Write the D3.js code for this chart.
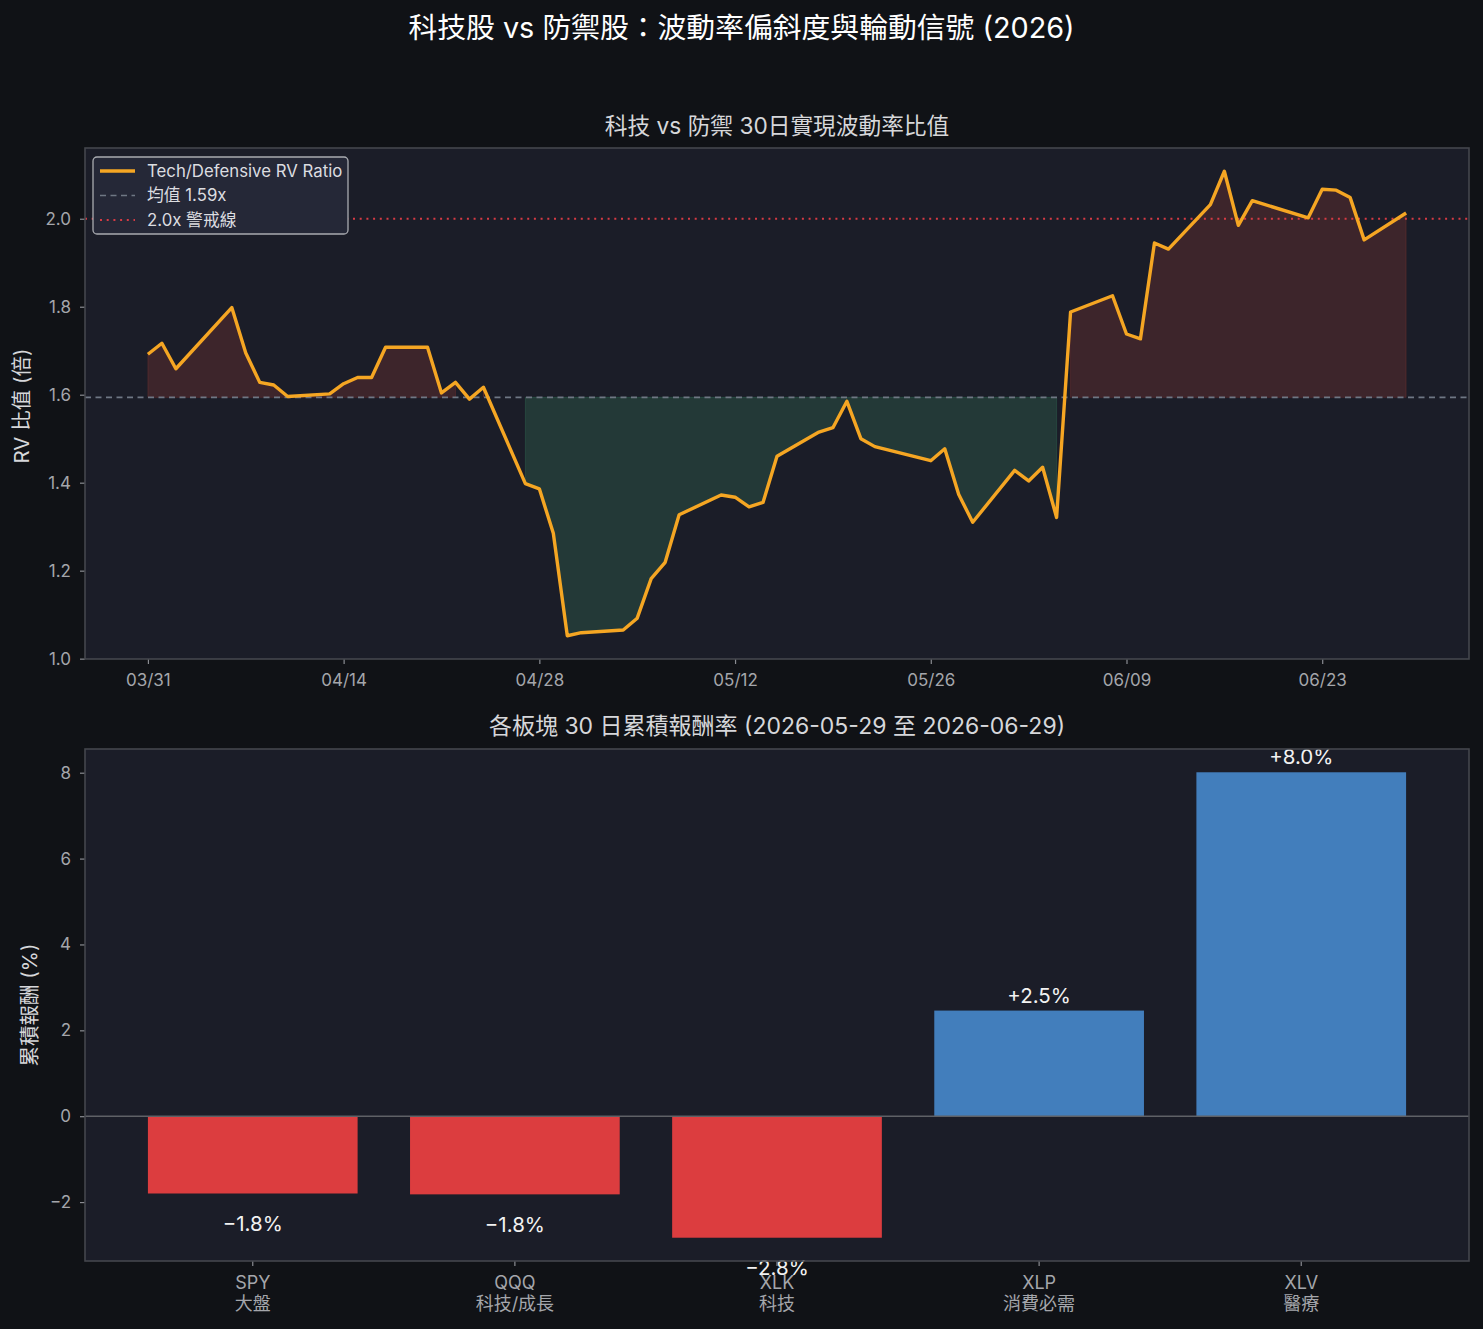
<!DOCTYPE html>
<html lang="zh-Hant">
<head>
<meta charset="utf-8">
<title>科技股 vs 防禦股</title>
<script src="https://cdn.jsdelivr.net/npm/d3@7/dist/d3.min.js"></script>
<style>
  html, body { margin: 0; padding: 0; background: #101216; }
  svg { display: block; }
  text { font-family: "Inter", "Noto Sans CJK TC", "Noto Sans", sans-serif; }
</style>
</head>
<body>
<div id="chart"></div>
<script>
// ---- data ----
var dates = [
  "2026-03-31","2026-04-01","2026-04-02","2026-04-06","2026-04-07","2026-04-08","2026-04-09","2026-04-10",
  "2026-04-13","2026-04-14","2026-04-15","2026-04-16","2026-04-17","2026-04-20","2026-04-21","2026-04-22",
  "2026-04-23","2026-04-24","2026-04-27","2026-04-28","2026-04-29","2026-04-30","2026-05-01","2026-05-04",
  "2026-05-05","2026-05-06","2026-05-07","2026-05-08","2026-05-11","2026-05-12","2026-05-13","2026-05-14",
  "2026-05-15","2026-05-18","2026-05-19","2026-05-20","2026-05-21","2026-05-22","2026-05-26","2026-05-27",
  "2026-05-28","2026-05-29","2026-06-01","2026-06-02","2026-06-03","2026-06-04","2026-06-05","2026-06-08",
  "2026-06-09","2026-06-10","2026-06-11","2026-06-12","2026-06-15","2026-06-16","2026-06-17","2026-06-18",
  "2026-06-22","2026-06-23","2026-06-24","2026-06-25","2026-06-26","2026-06-29"
];
var rvRatio = [
  1.692,1.717,1.659,1.798,1.695,1.628,1.622,1.596,
  1.602,1.625,1.639,1.639,1.708,1.708,1.604,1.628,
  1.590,1.617,1.398,1.386,1.285,1.052,1.059,1.065,
  1.092,1.182,1.219,1.327,1.372,1.367,1.345,1.355,
  1.460,1.515,1.525,1.585,1.500,1.482,1.450,1.477,
  1.373,1.310,1.428,1.404,1.435,1.321,1.788,1.825,
  1.738,1.727,1.945,1.931,2.032,2.108,1.985,2.041,
  2.002,2.067,2.065,2.048,1.952,2.013
];
var rvMean = 1.594;
var alertLevel = 2.0;
var dateTicks = ["2026-03-31","2026-04-14","2026-04-28","2026-05-12","2026-05-26","2026-06-09","2026-06-23"];
var rvTicks = [1.0, 1.2, 1.4, 1.6, 1.8, 2.0];

var tickers = ["SPY", "QQQ", "XLK", "XLP", "XLV"];
var sectorNames = ["大盤", "科技/成長", "科技", "消費必需", "醫療"];
var returns30d = [-1.80, -1.82, -2.83, 2.46, 8.01];
var retTicks = [-2, 0, 2, 4, 6, 8];

// ---- layout ----
var W = 1483, H = 1329;
var axBg = "#1b1d28", figBg = "#101216", spine = "#44464d";
var tickCol = "#a4a6ab", titleCol = "#d6d7da";
var tickFont = "17px";

var svg = d3.select("#chart").append("svg")
  .attr("width", W).attr("height", H)
  .style("background", figBg);

svg.append("text")
  .attr("x", W / 2).attr("y", 28).attr("dy", "0.35em")
  .attr("text-anchor", "middle")
  .attr("fill", "#ffffff")
  .style("font-size", "28.8px")
  .text("科技股 vs 防禦股：波動率偏斜度與輪動信號 (2026)");

// ================= top panel =================
var box1 = { x0: 85, x1: 1469, y0: 148, y1: 659 };
var parse = d3.timeParse("%Y-%m-%d");
var rv = dates.map(function(d, i) { return { date: parse(d), v: rvRatio[i] }; });

var tMin = rv[0].date.getTime(), tMax = rv[rv.length - 1].date.getTime();
var pad = (tMax - tMin) * 0.05;
var x = d3.scaleTime()
  .domain([new Date(tMin - pad), new Date(tMax + pad)])
  .range([box1.x0, box1.x1]);
var vMin = d3.min(rvRatio), vMax = d3.max(rvRatio);
var vPad = (vMax - vMin) * 0.05;
var y = d3.scaleLinear()
  .domain([vMin - vPad, vMax + vPad])
  .range([box1.y1, box1.y0]);

var g1 = svg.append("g");
g1.append("rect")
  .attr("x", box1.x0).attr("y", box1.y0)
  .attr("width", box1.x1 - box1.x0).attr("height", box1.y1 - box1.y0)
  .attr("fill", axBg);

svg.append("defs").append("clipPath").attr("id", "clipTop")
  .append("rect")
  .attr("x", box1.x0).attr("y", box1.y0)
  .attr("width", box1.x1 - box1.x0).attr("height", box1.y1 - box1.y0);

var plot = g1.append("g").attr("clip-path", "url(#clipTop)");

// fills above / below the mean (no interpolation, like fill_between where=)
var areaAbove = d3.area()
  .defined(function(d) { return d.v >= rvMean; })
  .x(function(d) { return x(d.date); })
  .y0(y(rvMean))
  .y1(function(d) { return y(d.v); });
var areaBelow = d3.area()
  .defined(function(d) { return d.v < rvMean; })
  .x(function(d) { return x(d.date); })
  .y0(y(rvMean))
  .y1(function(d) { return y(d.v); });

plot.append("path").datum(rv)
  .attr("d", areaAbove)
  .attr("fill", "rgba(231,76,60,0.17)")
  .attr("stroke", "rgba(231,76,60,0.17)");
plot.append("path").datum(rv)
  .attr("d", areaBelow)
  .attr("fill", "rgba(70,190,130,0.18)")
  .attr("stroke", "rgba(70,190,130,0.18)");

// mean & alert lines
plot.append("line")
  .attr("x1", box1.x0).attr("x2", box1.x1)
  .attr("y1", y(rvMean)).attr("y2", y(rvMean))
  .attr("stroke", "#6f7784").attr("stroke-width", 1.6)
  .attr("stroke-dasharray", "6,4.5");
plot.append("line")
  .attr("x1", box1.x0).attr("x2", box1.x1)
  .attr("y1", y(alertLevel)).attr("y2", y(alertLevel))
  .attr("stroke", "#d63b44").attr("stroke-width", 1.9)
  .attr("stroke-dasharray", "2,4.7");

var line = d3.line()
  .x(function(d) { return x(d.date); })
  .y(function(d) { return y(d.v); });
plot.append("path").datum(rv)
  .attr("d", line)
  .attr("fill", "none")
  .attr("stroke", "#f5a623")
  .attr("stroke-width", 3.4)
  .attr("stroke-linejoin", "round");

// axes
var fmtDay = d3.timeFormat("%m/%d");
var xAxis = d3.axisBottom(x)
  .tickValues(dateTicks.map(parse))
  .tickFormat(fmtDay)
  .tickSize(5).tickPadding(10);
var gx = g1.append("g").attr("transform", "translate(0," + box1.y1 + ")").call(xAxis);
var yAxis = d3.axisLeft(y)
  .tickValues(rvTicks)
  .tickFormat(d3.format(".1f"))
  .tickSize(5).tickPadding(9);
var gy = g1.append("g").attr("transform", "translate(" + box1.x0 + ",0)").call(yAxis);

[gx, gy].forEach(function(a) {
  a.select(".domain").remove();
  a.selectAll(".tick line").attr("stroke", "#8a8c92").attr("stroke-width", 1.2);
  a.selectAll(".tick text").attr("fill", tickCol).style("font-size", tickFont);
});

g1.append("rect")
  .attr("x", box1.x0).attr("y", box1.y0)
  .attr("width", box1.x1 - box1.x0).attr("height", box1.y1 - box1.y0)
  .attr("fill", "none").attr("stroke", spine).attr("stroke-width", 1.6);

g1.append("text")
  .attr("x", (box1.x0 + box1.x1) / 2).attr("y", 126).attr("dy", "0.35em")
  .attr("text-anchor", "middle")
  .attr("fill", titleCol)
  .style("font-size", "22.7px")
  .text("科技 vs 防禦 30日實現波動率比值");

g1.append("text")
  .attr("transform", "translate(22," + 406 + ") rotate(-90)")
  .attr("dy", "0.35em")
  .attr("text-anchor", "middle")
  .attr("fill", titleCol)
  .style("font-size", "20.5px")
  .text("RV 比值 (倍)");

// legend
var leg = g1.append("g").attr("transform", "translate(93,157)");
leg.append("rect")
  .attr("width", 255).attr("height", 77).attr("rx", 4)
  .attr("fill", "#252837").attr("stroke", "#a9abb0").attr("stroke-width", 1.3);
var legItems = [
  { label: "Tech/Defensive RV Ratio", stroke: "#f5a623", w: 3.4, dash: null },
  { label: "均值 1.59x", stroke: "#6f7784", w: 1.6, dash: "6,4.5" },
  { label: "2.0x 警戒線", stroke: "#d63b44", w: 1.9, dash: "2,4.7" }
];
legItems.forEach(function(it, i) {
  var yy = 14 + i * 24.5;
  leg.append("line")
    .attr("x1", 7).attr("x2", 42).attr("y1", yy).attr("y2", yy)
    .attr("stroke", it.stroke).attr("stroke-width", it.w)
    .attr("stroke-dasharray", it.dash);
  leg.append("text")
    .attr("x", 54).attr("y", yy).attr("dy", "0.35em")
    .attr("fill", "#dcdde0")
    .style("font-size", "16.8px")
    .text(it.label);
});

// ================= bottom panel =================
var box2 = { x0: 85, x1: 1469, y0: 749, y1: 1261 };
var g2 = svg.append("g");
g2.append("rect")
  .attr("x", box2.x0).attr("y", box2.y0)
  .attr("width", box2.x1 - box2.x0).attr("height", box2.y1 - box2.y0)
  .attr("fill", axBg);

var xb = d3.scaleBand()
  .domain(tickers)
  .range([box2.x0, box2.x1])
  .paddingInner(0.2)
  .paddingOuter(0.24);
var rMin = d3.min(returns30d), rMax = d3.max(returns30d);
var rPad = (rMax - rMin) * 0.05;
var yb = d3.scaleLinear()
  .domain([rMin - rPad, rMax + rPad])
  .range([box2.y1, box2.y0]);

var bars = tickers.map(function(t, i) { return { t: t, name: sectorNames[i], v: returns30d[i] }; });

g2.selectAll("rect.bar").data(bars).enter().append("rect")
  .attr("class", "bar")
  .attr("x", function(d) { return xb(d.t); })
  .attr("width", xb.bandwidth())
  .attr("y", function(d) { return yb(Math.max(0, d.v)); })
  .attr("height", function(d) { return Math.abs(yb(d.v) - yb(0)); })
  .attr("fill", function(d) { return d.v < 0 ? "#dc3d3f" : "#427ebc"; });

g2.append("line")
  .attr("x1", box2.x0).attr("x2", box2.x1)
  .attr("y1", yb(0)).attr("y2", yb(0))
  .attr("stroke", "#5f6166").attr("stroke-width", 1.6);

var fmtPct = function(v) { return (v >= 0 ? "+" : "\u2212") + Math.abs(v).toFixed(1) + "%"; };
g2.selectAll("text.val").data(bars).enter().append("text")
  .attr("class", "val")
  .attr("x", function(d) { return xb(d.t) + xb.bandwidth() / 2; })
  .attr("y", function(d) { return d.v >= 0 ? yb(d.v) - 15 : yb(d.v) + 30; })
  .attr("dy", "0.35em")
  .attr("text-anchor", "middle")
  .attr("fill", "#f2f2f2")
  .style("font-size", "20.5px")
  .text(function(d) { return fmtPct(d.v); });

var xbAxis = d3.axisBottom(xb).tickSize(5).tickFormat("");
var gxb = g2.append("g").attr("transform", "translate(0," + box2.y1 + ")").call(xbAxis);
gxb.select(".domain").remove();
gxb.selectAll(".tick line").attr("stroke", "#8a8c92").attr("stroke-width", 1.2);
gxb.selectAll(".tick").each(function(t, i) {
  var tg = d3.select(this);
  var tx = tg.append("text").attr("text-anchor", "middle")
    .attr("fill", tickCol).style("font-size", "18px");
  tx.append("tspan").attr("x", 0).attr("y", 22).attr("dy", "0.35em").text(t);
  tx.append("tspan").attr("x", 0).attr("y", 43).attr("dy", "0.35em").text(sectorNames[i]);
});

var ybAxis = d3.axisLeft(yb)
  .tickValues(retTicks)
  .tickFormat(function(d) { return d < 0 ? "\u2212" + Math.abs(d) : String(d); })
  .tickSize(5).tickPadding(9);
var gyb = g2.append("g").attr("transform", "translate(" + box2.x0 + ",0)").call(ybAxis);
gyb.select(".domain").remove();
gyb.selectAll(".tick line").attr("stroke", "#8a8c92").attr("stroke-width", 1.2);
gyb.selectAll(".tick text").attr("fill", tickCol).style("font-size", tickFont);

g2.append("rect")
  .attr("x", box2.x0).attr("y", box2.y0)
  .attr("width", box2.x1 - box2.x0).attr("height", box2.y1 - box2.y0)
  .attr("fill", "none").attr("stroke", spine).attr("stroke-width", 1.6);

g2.append("text")
  .attr("x", (box2.x0 + box2.x1) / 2).attr("y", 726).attr("dy", "0.35em")
  .attr("text-anchor", "middle")
  .attr("fill", titleCol)
  .style("font-size", "23px")
  .text("各板塊 30 日累積報酬率 (2026-05-29 至 2026-06-29)");

g2.append("text")
  .attr("transform", "translate(30," + 1005 + ") rotate(-90)")
  .attr("dy", "0.35em")
  .attr("text-anchor", "middle")
  .attr("fill", titleCol)
  .style("font-size", "20.5px")
  .text("累積報酬 (%)");
</script>
</body>
</html>
